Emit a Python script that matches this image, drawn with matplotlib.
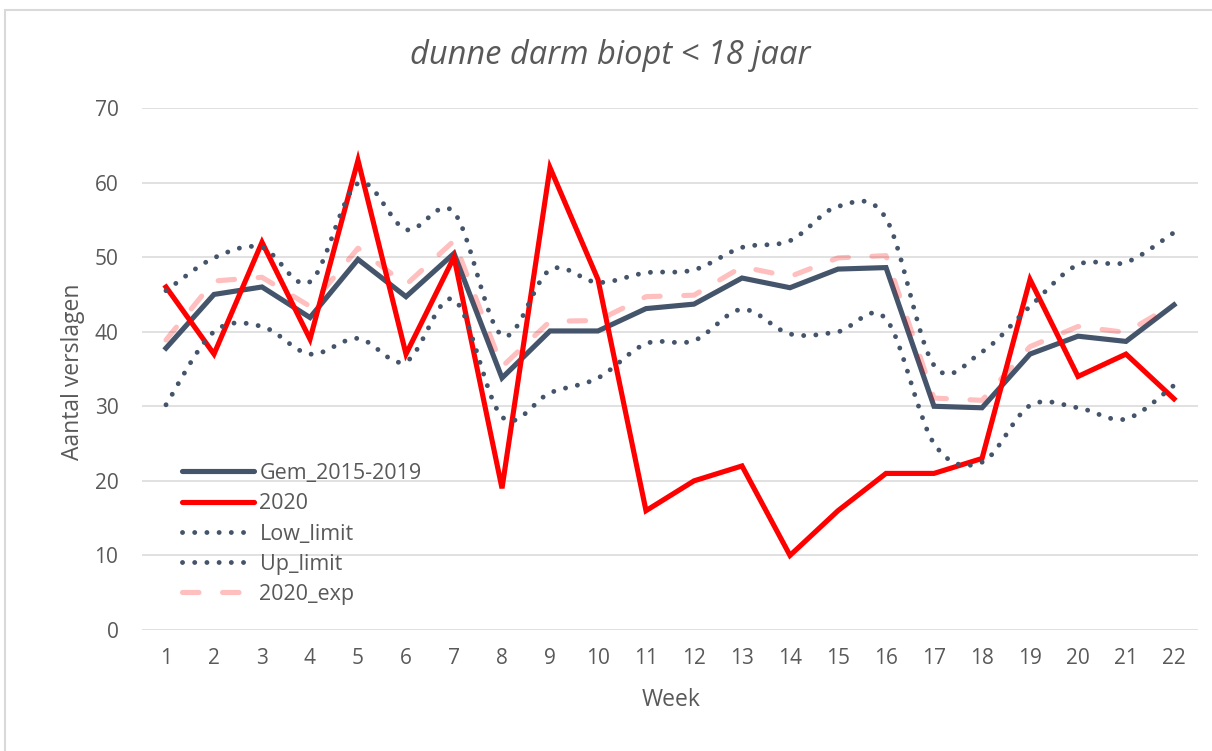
import numpy as np
import matplotlib
matplotlib.use("Agg")
import matplotlib.pyplot as plt
from matplotlib.path import Path
from matplotlib.patches import PathPatch, Rectangle
from matplotlib.lines import Line2D

weeks = list(range(1, 23))
gem_2015_2019 = [37.8, 45.0, 46.0, 41.9, 49.7, 44.7, 50.5, 33.8, 40.1, 40.1, 43.1,
                 43.7, 47.2, 45.9, 48.4, 48.6, 30.0, 29.8, 37.0, 39.4, 38.7, 43.6]
y2020 = [46, 37, 52, 39, 63, 37, 50, 19, 62, 47, 16, 20, 22, 10, 16, 21, 21, 23, 47, 34, 37, 31]
low_limit = [30.2, 40.0, 40.7, 37.0, 39.1, 36.0, 44.3, 28.6, 31.8, 33.8, 38.4,
             38.8, 43.0, 39.7, 40.0, 41.7, 25.0, 22.5, 30.1, 29.8, 28.3, 32.8]
up_limit = [45.5, 49.9, 51.3, 46.7, 59.9, 53.7, 56.0, 39.5, 48.3, 46.6, 47.9,
            48.3, 51.3, 52.2, 56.8, 55.2, 35.5, 37.3, 43.4, 49.0, 49.3, 53.3]
exp_2020 = [38.9, 46.8, 47.3, 43.4, 51.2, 46.3, 52.2, 35.3, 41.4, 41.5, 44.7,
            44.9, 48.7, 47.4, 49.9, 50.2, 31.1, 30.8, 38.0, 40.7, 39.9, 43.7]

title = "dunne darm biopt < 18 jaar"
xlabel = "Week"
ylabel = "Aantal verslagen"
series_names = ["Gem_2015-2019", "2020", "Low_limit", "Up_limit", "2020_exp"]

FONT = "Open Sans"
TXT = "#595959"
SLATE = "#44546A"
RED = "#FF0000"

plt.rcParams['font.family'] = [FONT, 'DejaVu Sans']

fig = plt.figure(figsize=(12.12, 7.51), dpi=100)
W, H = 1212, 751
ax = fig.add_axes([142 / W, (H - 630) / H, (1198 - 142) / W, (630 - 108) / H])

# figure border (light gray frame)
fig.patches.append(Rectangle((5 / W, -0.05), 1.2, (H - 10) / H + 0.05,
                             transform=fig.transFigure, fill=False,
                             edgecolor="#D9D9D9", lw=1.5))

ax.set_xlim(0.5, 22.5)
ax.set_ylim(0, 70)
ax.set_yticks(range(0, 71, 10))
ax.set_xticks(weeks)
ax.set_xticklabels([str(w) for w in weeks])
ax.grid(axis='y', color="#D9D9D9", lw=1.1)
ax.set_axisbelow(True)
for s in ax.spines.values():
    s.set_visible(False)
ax.tick_params(length=0, labelsize=15, labelcolor=TXT)
ax.tick_params(axis='y', pad=17)
ax.tick_params(axis='x', pad=13)


def smooth_path(xs, ys):
    xs = np.asarray(xs, float)
    ys = np.asarray(ys, float)
    pts = np.column_stack([xs, ys])
    n = len(pts)
    verts = [pts[0]]
    codes = [Path.MOVETO]
    for i in range(n - 1):
        p0 = pts[i - 1] if i > 0 else pts[i]
        p1 = pts[i]
        p2 = pts[i + 1]
        p3 = pts[i + 2] if i + 2 < n else pts[i + 1]
        c1 = p1 + (p2 - p0) / 6.0
        c2 = p2 - (p3 - p1) / 6.0
        verts += [c1, c2, p2]
        codes += [Path.CURVE4] * 3
    return Path(verts, codes)


DOT_LW = 3.5
dot_style = (0, (0.01, 2.5))
dash_style = (0, (3.2, 4.6))

ax.plot(weeks, gem_2015_2019, color=SLATE, lw=3.7, solid_joinstyle='miter', zorder=3)
ax.plot(weeks, y2020, color=RED, lw=3.7, solid_joinstyle='miter', zorder=4)
for series in (low_limit, up_limit):
    ax.add_patch(PathPatch(smooth_path(weeks, series), fill=False, edgecolor=SLATE,
                           lw=DOT_LW, linestyle=dot_style, capstyle='round', zorder=5))
ax.plot(weeks, exp_2020, color=RED, alpha=0.25, lw=3.7, linestyle=dash_style,
        dash_capstyle='round', zorder=6)

handles = [
    Line2D([], [], color=SLATE, lw=3.7, solid_capstyle='round'),
    Line2D([], [], color=RED, lw=3.7, solid_capstyle='round'),
    Line2D([], [], color=SLATE, lw=DOT_LW, linestyle=dot_style, dash_capstyle='round'),
    Line2D([], [], color=SLATE, lw=DOT_LW, linestyle=dot_style, dash_capstyle='round'),
    Line2D([], [], color=RED, alpha=0.25, lw=3.7, linestyle=dash_style, dash_capstyle='round'),
]
leg = ax.legend(handles, series_names, loc='upper left',
                bbox_to_anchor=((182 - 142) / 1056, (630 - 463) / 522),
                frameon=False, fontsize=15.5, labelcolor=TXT, handlelength=3.35,
                handletextpad=0.25, labelspacing=0.43, borderpad=0, borderaxespad=0)

fig.text(610 / W, 1 - 55 / H, title, ha='center', va='center', fontsize=23.5,
         style='italic', color=TXT)
fig.text(671 / W, 1 - 700 / H, xlabel, ha='center', va='center', fontsize=16.5, color=TXT)
fig.text(73 / W, 1 - 372 / H, ylabel, ha='center', va='center', fontsize=16.5,
         color=TXT, rotation=90)

fig.savefig("out.png", dpi=100)
